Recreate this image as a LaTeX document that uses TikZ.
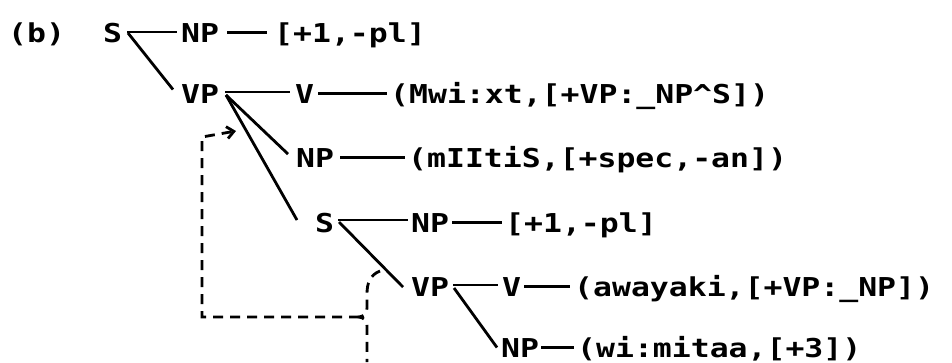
\documentclass[tikz,border=0pt]{standalone}
\usepackage{fontspec}
\newfontfamily\dm{DejaVu Sans Mono}[FakeStretch=1.21]
\usetikzlibrary{arrows.meta,calc}
\begin{document}
\begin{tikzpicture}[x=1pt,y=-1pt,
  lbl/.style={anchor=base west,inner sep=0pt,font=\dm\bfseries\fontsize{26}{30}\selectfont},
  branch/.style={line width=2.8pt},
  dashline/.style={line width=2.8pt,dash pattern=on 10pt off 7pt},
]
\useasboundingbox (0,0) rectangle (952,362);
% row 1
\node[lbl] (b)   at (8,42)   {(b)};
\node[lbl] (S1)  at (103,42) {S};
\node[lbl] (NP1) at (181,42) {NP};
\node[lbl] (F1)  at (274,42) {[+1,-pl]};
% row 2
\node[lbl] (VP2) at (181,103) {VP};
\node[lbl] (V2)  at (295,103) {V};
\node[lbl] (T2)  at (390,103) {(Mwi:xt,[+VP:\_NP\textasciicircum S])};
% row 3
\node[lbl] (NP3) at (296,167) {NP};
\node[lbl] (T3)  at (408,167) {(mIItiS,[+spec,-an])};
% row 4
\node[lbl] (S4)  at (315,232) {S};
\node[lbl] (NP4) at (411,232) {NP};
\node[lbl] (F4)  at (505,232) {[+1,-pl]};
% row 5
\node[lbl] (VP5) at (411,296) {VP};
\node[lbl] (V5)  at (502,296) {V};
\node[lbl] (T5)  at (574,296) {(awayaki,[+VP:\_NP])};
% row 6
\node[lbl] (NP6) at (501,357) {NP};
\node[lbl] (T6)  at (577,357) {(wi:mitaa,[+3])};
% junctions
\coordinate (j1) at (127,32);
\coordinate (j2) at (225,92);
\coordinate (j4) at (338,220);
\coordinate (j5) at (453,285);
% branches
\draw[branch,shorten >=4pt] (j1) -- (j1 -| NP1.west);
\draw[branch] ($(j1)+(1,1)$) -- ($(VP2.west)+(-8,-4)$);
\draw[branch,shorten <=8pt,shorten >=7pt] (NP1.east) -- (NP1.east -| F1.west);
\draw[branch,shorten >=5pt] (j2) -- (j2 -| V2.west);
\draw[branch,shorten <=4pt,shorten >=3pt] (V2.east) -- (V2.east -| T2.west);
\draw[branch] ($(j2)+(1,3)$) -- ($(NP3.west)+(-8,-3.5)$);
\draw[branch] ($(j2)+(1,3)$) -- ($(S4.west)+(-18,-2.5)$);
\draw[branch,shorten <=6pt,shorten >=3pt] (NP3.east) -- (NP3.east -| T3.west);
\draw[branch,shorten >=3pt] (j4) -- (j4 -| NP4.west);
\draw[branch] ($(j4)+(1,2)$) -- ($(VP5.west)+(-8,0.5)$);
\draw[branch,shorten <=3pt,shorten >=3pt] (NP4.east) -- (NP4.east -| F4.west);
\draw[branch,shorten >=4pt] (j5) -- (j5 -| V5.west);
\draw[branch] ($(j5)+(1,3)$) -- ($(NP6.west)+(-4,0)$);
\draw[branch,shorten <=3pt,shorten >=4pt] (V5.east) -- (V5.east -| T5.west);
\draw[branch,shorten <=2pt,shorten >=3pt] (NP6.east) -- (NP6.east -| T6.west);
% dashed connector with brace
\coordinate (bt) at (359,317);
\coordinate (c1) at (202,317);
\coordinate (c2) at (202,137);
\coordinate (ar) at (236,131);
\draw[dashline,-{Straight Barb[length=7pt,width=12pt]}] (bt) -- (c1) -- (c2) -- (ar);
\draw[dashline] (380,271) .. controls (370,275) and (367,283) .. (367,294) -- (367,308)
  .. controls (367,314) and (364,316) .. (bt)
  .. controls (364,318) and (367,320) .. (367,326) -- (367,362);
\end{tikzpicture}
\end{document}
